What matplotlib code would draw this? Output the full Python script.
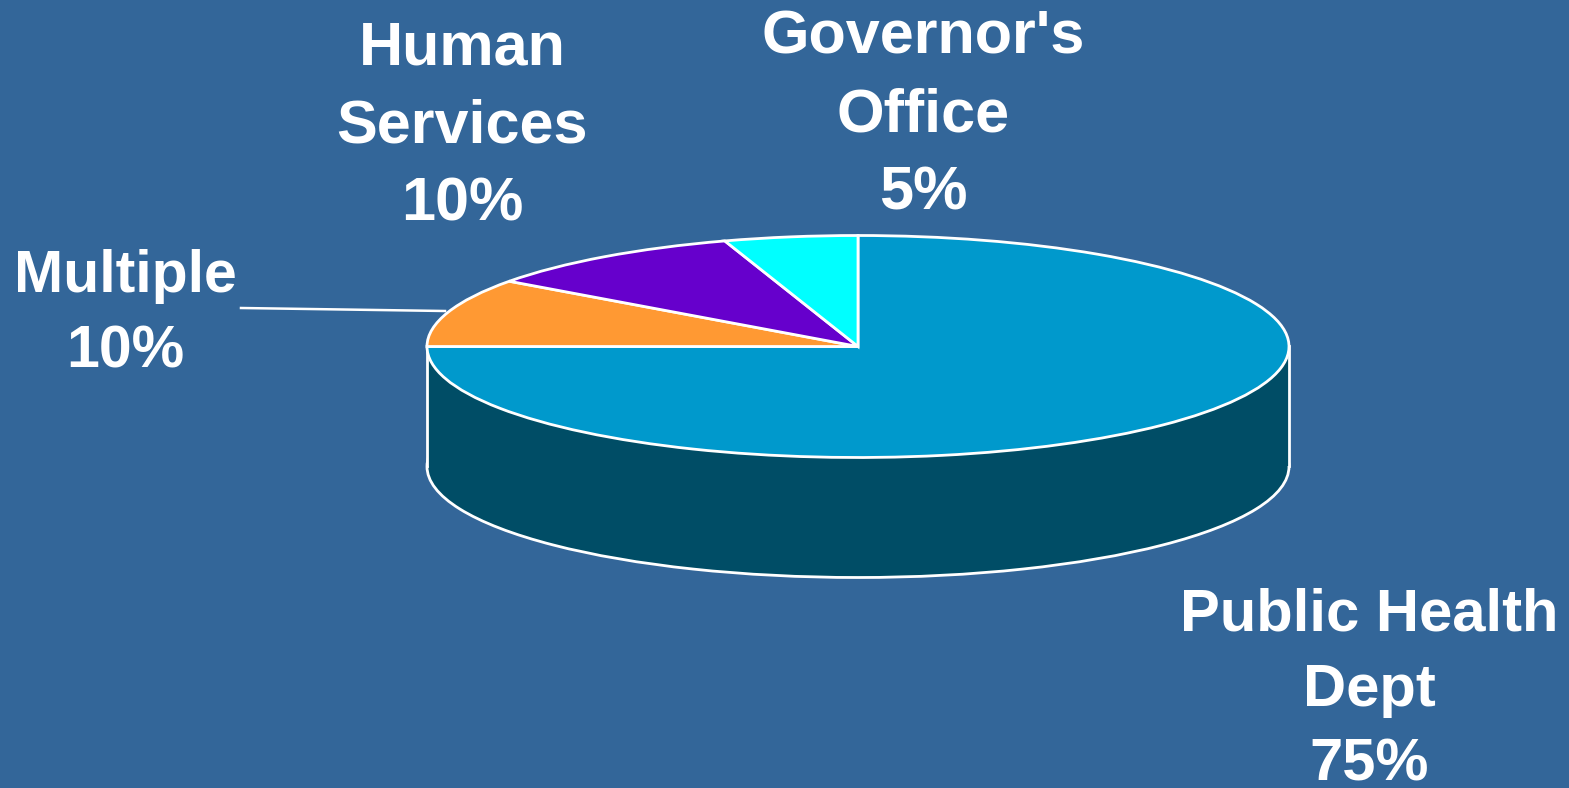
import matplotlib.pyplot as plt
from matplotlib.patches import Rectangle

plt.rcParams['font.family'] = ['Liberation Sans', 'DejaVu Sans']

W, H = 1569, 788

# clockwise from 12 o'clock
names = ["Public Health\nDept", "Multiple", "Human\nServices", "Governor's\nOffice"]
values = [75, 10, 10, 5]
colors = ["#0099CC", "#FF9933", "#6600CC", "#00FFFF"]
side_color = "#004D66"
bg = "#336699"

# label centres in pixels
label_pos = [(1369, 690), (125, 314), (462, 127), (923, 116)]
label_size = [43, 42.5, 44, 44]

# pie geometry in pixels
cx, cy = 858, 346.5
rx, ry = 431, 111
depth = 120 / ry


def main():
	fig = plt.figure(figsize=(W / 100, H / 100), dpi=100, facecolor=bg)
	ax = fig.add_axes([0, 0, 1, 1])

	wp = {'edgecolor': 'white', 'linewidth': 2.0}

	# side of the cylinder, the top pie covers the upper part
	ax.pie([sum(values)], colors=[side_color], startangle=90, center=(0, -depth),
		wedgeprops=wp, normalize=True)
	ax.add_patch(Rectangle((-1, -depth), 2, depth, facecolor=side_color, edgecolor='none', zorder=3))
	ax.plot([-1, -1], [-depth, 0], color='white', lw=2.0, zorder=3)
	ax.plot([1, 1], [-depth, 0], color='white', lw=2.0, zorder=3)

	wedges, _ = ax.pie(values, colors=colors, startangle=90, counterclock=False,
		wedgeprops=wp, normalize=True)
	for w in wedges:
		w.set_zorder(4)

	# pie() forces equal aspect, squash it into the ellipse
	ax.set_aspect('auto')
	ax.set_xlim(-cx / rx, (W - cx) / rx)
	ax.set_ylim((cy - H) / ry, cy / ry)

	# leader line for Multiple
	ax.plot([(241 - cx) / rx, (445 - cx) / rx], [(cy - 308) / ry, (cy - 311) / ry],
		color='white', lw=1.8, zorder=2)

	for name, val, (px, py), size in zip(names, values, label_pos, label_size):
		fig.text(px / W, 1 - py / H, "{}\n{}%".format(name, val), color='white',
			fontsize=size, fontweight='bold', ha='center', va='center',
			multialignment='center', linespacing=1.47)

	fig.savefig("out.png", dpi=100, facecolor=bg)


if __name__ == '__main__':
	main()
